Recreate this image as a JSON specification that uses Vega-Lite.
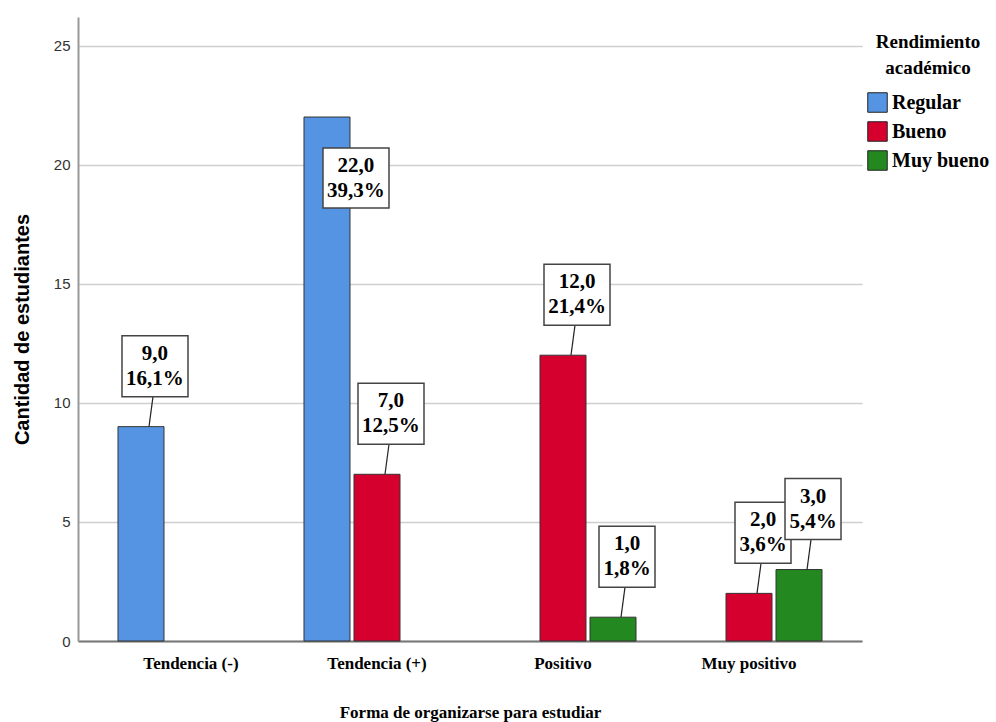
{
  "$schema": "https://vega.github.io/schema/vega-lite/v6.json",
  "width": 784,
  "height": 624,
  "autosize": {"type": "none"},
  "padding": {"left": 78, "top": 17, "right": 134, "bottom": 81},
  "background": "white",
  "data": {
    "values": [
      {"cat": "Tendencia (-)", "grp": "Regular", "n": 9, "pct": 16.1},
      {"cat": "Tendencia (+)", "grp": "Regular", "n": 22, "pct": 39.3},
      {"cat": "Tendencia (+)", "grp": "Bueno", "n": 7, "pct": 12.5},
      {"cat": "Positivo", "grp": "Bueno", "n": 12, "pct": 21.4},
      {"cat": "Positivo", "grp": "Muy bueno", "n": 1, "pct": 1.8},
      {"cat": "Muy positivo", "grp": "Bueno", "n": 2, "pct": 3.6},
      {"cat": "Muy positivo", "grp": "Muy bueno", "n": 3, "pct": 5.4}
    ]
  },
  "transform": [
    {"calculate": "[replace(format(datum.n, '.1f'), '.', ','), replace(format(datum.pct, '.1f'), '.', ',') + '%']", "as": "lab"}
  ],
  "encoding": {
    "x": {
      "field": "cat",
      "type": "nominal",
      "sort": ["Tendencia (-)", "Tendencia (+)", "Positivo", "Muy positivo"],
      "scale": {"paddingInner": 0.215, "paddingOuter": 0.215},
      "axis": {
        "title": "Forma de organizarse para estudiar",
        "labelAngle": 0,
        "labelFont": "Liberation Serif",
        "labelFontWeight": "bold",
        "labelFontSize": 17,
        "labelColor": "#000000",
        "labelPadding": 14,
        "ticks": false,
        "domainColor": "#777777",
        "domainWidth": 2,
        "titleFont": "Liberation Serif",
        "titleFontWeight": "bold",
        "titleFontSize": 17,
        "titleColor": "#000000",
        "titlePadding": 33
      }
    },
    "xOffset": {
      "field": "grp",
      "type": "nominal",
      "sort": ["Regular", "Bueno", "Muy bueno"],
      "scale": {"paddingInner": 0.08, "paddingOuter": 0}
    },
    "y": {
      "field": "n",
      "type": "quantitative",
      "scale": {"domain": [0, 26.2], "nice": false},
      "axis": {
        "title": "Cantidad de estudiantes",
        "values": [0, 5, 10, 15, 20, 25],
        "grid": true,
        "gridColor": "#cfcfcf",
        "gridWidth": 1.5,
        "ticks": false,
        "labelFont": "Liberation Sans",
        "labelFontSize": 15,
        "labelColor": "#333333",
        "labelPadding": 8,
        "domainColor": "#999999",
        "domainWidth": 2,
        "titleFont": "Liberation Sans",
        "titleFontWeight": "bold",
        "titleFontSize": 20,
        "titleColor": "#000000",
        "titlePadding": 21
      }
    }
  },
  "layer": [
    {
      "mark": {"type": "bar", "stroke": "#333333", "strokeWidth": 1},
      "encoding": {
        "color": {
          "field": "grp",
          "type": "nominal",
          "sort": ["Regular", "Bueno", "Muy bueno"],
          "scale": {"domain": ["Regular", "Bueno", "Muy bueno"], "range": ["#5594E3", "#D6002F", "#23881F"]},
          "legend": {
            "title": ["Rendimiento", "académico"],
            "orient": "none",
            "legendX": 789,
            "legendY": 16,
            "titleFont": "Liberation Serif",
            "titleFontWeight": "bold",
            "titleFontSize": 19,
            "titleLineHeight": 26,
            "titleColor": "#000000",
            "titleAnchor": "middle",
            "titleAlign": "center",
            "titlePadding": 14,
            "labelFont": "Liberation Serif",
            "labelFontWeight": "bold",
            "labelFontSize": 20,
            "labelColor": "#000000",
            "labelOffset": 4,
            "symbolType": "square",
            "symbolSize": 380,
            "symbolStrokeColor": "#222222",
            "symbolStrokeWidth": 1,
            "symbolOpacity": 1,
            "rowPadding": 4
          }
        }
      }
    },
    {
      "transform": [{"filter": "datum.n < 20"}],
      "mark": {"type": "point", "shape": "M8,0L12,-30", "size": 4, "filled": false, "stroke": "#222222", "strokeWidth": 1.2, "opacity": 1}
    },
    {
      "transform": [{"filter": "datum.n < 20 && datum.pct >= 10"}],
      "mark": {"type": "point", "shape": "M-19,-30H47V-91H-19Z", "size": 4, "filled": true, "fill": "white", "stroke": "#444444", "strokeWidth": 1.5, "opacity": 1}
    },
    {
      "transform": [{"filter": "datum.n < 20 && datum.pct < 10"}],
      "mark": {"type": "point", "shape": "M-14,-30H42V-91H-14Z", "size": 4, "filled": true, "fill": "white", "stroke": "#444444", "strokeWidth": 1.5, "opacity": 1}
    },
    {
      "transform": [{"filter": "datum.n >= 20"}],
      "mark": {"type": "point", "shape": "M-4,31H62V91H-4Z", "size": 4, "filled": true, "fill": "white", "stroke": "#444444", "strokeWidth": 1.5, "opacity": 1}
    },
    {
      "transform": [{"filter": "datum.n < 20"}],
      "mark": {"type": "text", "dx": 14, "dy": -73, "align": "center", "baseline": "middle", "lineHeight": 25, "font": "Liberation Serif", "fontWeight": "bold", "fontSize": 21, "color": "#000000"},
      "encoding": {"text": {"field": "lab"}}
    },
    {
      "transform": [{"filter": "datum.n >= 20"}],
      "mark": {"type": "text", "dx": 29, "dy": 48.5, "align": "center", "baseline": "middle", "lineHeight": 25, "font": "Liberation Serif", "fontWeight": "bold", "fontSize": 21, "color": "#000000"},
      "encoding": {"text": {"field": "lab"}}
    }
  ],
  "config": {
    "view": {"stroke": null},
    "legend": {"labelFont": "Liberation Serif", "titleFont": "Liberation Serif"}
  }
}
